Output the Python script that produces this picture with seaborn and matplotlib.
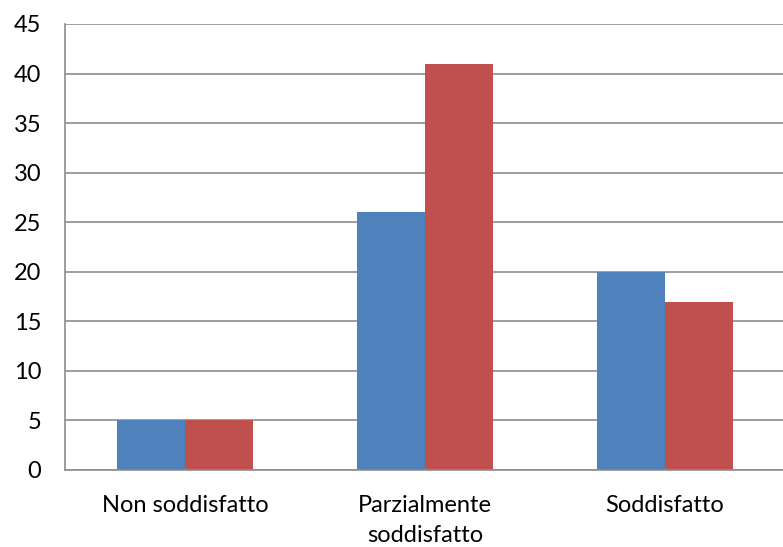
import matplotlib
matplotlib.use("Agg")
import matplotlib.pyplot as plt
import seaborn as sns
import pandas as pd

categories = ["Non soddisfatto", "Parzialmente\nsoddisfatto", "Soddisfatto"]
series_names = ["Serie 1", "Serie 2"]
serie1 = [5, 26, 20]
serie2 = [5, 41, 17]
yticks = [0, 5, 10, 15, 20, 25, 30, 35, 40, 45]

df = pd.DataFrame({
    "cat": categories * 2,
    "serie": [series_names[0]] * 3 + [series_names[1]] * 3,
    "val": serie1 + serie2,
})

sns.set_style("white")
plt.rcParams["font.family"] = ["Lato", "DejaVu Sans"]

fig = plt.figure(figsize=(7.83, 5.47), dpi=100)
ax = fig.add_axes([65 / 783, 1 - 470 / 547, (785 - 65) / 783, (470 - 24) / 547])

sns.barplot(data=df, x="cat", y="val", hue="serie", order=categories,
            palette=["#4F81BD", "#C0504D"], width=0.567, gap=0,
            saturation=1, edgecolor="none", linewidth=0, legend=False, ax=ax)

ax.set_xlim(-0.5, 2.5)
ax.set_ylim(0, 45)
ax.set_yticks(yticks)
ax.set_yticklabels([str(t) for t in yticks])
ax.yaxis.grid(True, color="#8c8c8c", linewidth=1.2)
ax.set_axisbelow(True)
ax.set_xlabel("")
ax.set_ylabel("")

# category boundary ticks
ax.set_xticks([0, 1, 2])
ax.set_xticklabels(categories, linespacing=1.5)
ax.tick_params(axis="x", length=0, pad=18, labelsize=17, labelcolor="#000000")
ax.set_xticks([-0.5, 0.5, 1.5, 2.5], minor=True)
ax.tick_params(axis="x", which="minor", length=5.8, width=1.2, color="#8c8c8c", direction="out")
ax.tick_params(axis="y", length=5, width=1.2, color="#8c8c8c", pad=12, labelsize=17, labelcolor="#000000")

for s in ["top", "right"]:
    ax.spines[s].set_visible(False)
for s in ["left", "bottom"]:
    ax.spines[s].set_color("#8c8c8c")
    ax.spines[s].set_linewidth(1.2)

fig.savefig("out.png", dpi=100)
